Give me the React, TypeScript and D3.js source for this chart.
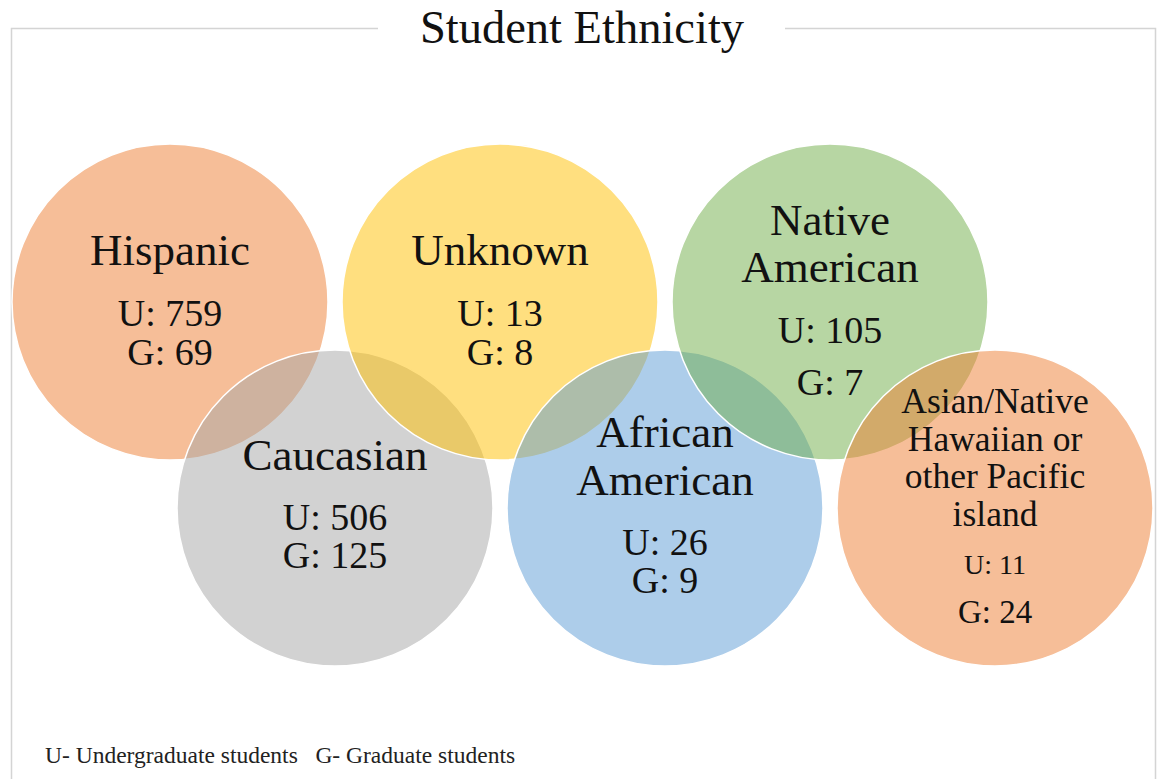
import React from 'react';
import * as d3 from 'd3';

// chart data
const categories = [
  'Hispanic',
  'Caucasian',
  'Unknown',
  'African American',
  'Native American',
  'Asian/Native Hawaiian or other Pacific island',
];
const nameLines = [
  ['Hispanic'],
  ['Caucasian'],
  ['Unknown'],
  ['African', 'American'],
  ['Native', 'American'],
  ['Asian/Native', 'Hawaiian or', 'other Pacific', 'island'],
];
const undergrad = [759, 506, 13, 26, 105, 11];
const graduate = [69, 125, 8, 9, 7, 24];
const colors = ['#ED7D31', '#A5A5A5', '#FFC000', '#5B9BD5', '#70AD47', '#ED7D31'];
const title = 'Student Ethnicity';
const note = 'U- Undergraduate students   G- Graduate students';

// label layout per circle (offsets from circle centre)
const labelLayout = [
  { nameY: -37, step: 48, nameSize: 45, uGap: 61, gGap: 39, uSize: 38, gSize: 38 },
  { nameY: -38, step: 48, nameSize: 45, uGap: 60, gGap: 38, uSize: 38, gSize: 38 },
  { nameY: -37, step: 48, nameSize: 45, uGap: 61, gGap: 39, uSize: 38, gSize: 38 },
  { nameY: -61, step: 48, nameSize: 45, uGap: 60, gGap: 38, uSize: 38, gSize: 38 },
  { nameY: -67, step: 47, nameSize: 45, uGap: 61, gGap: 52, uSize: 38, gSize: 38 },
  { nameY: -95, step: 37.5, nameSize: 35.5, uGap: 48, gGap: 49, uSize: 28, gSize: 33 },
];

const W = 1161;
const H = 779;
const font = '"Liberation Serif", "Times New Roman", serif';

export default function App() {
  const x = d3.scalePoint<string>().domain(categories).range([170, 995]);
  const y = d3.scaleOrdinal<number, number>().domain([0, 1]).range([302, 508]);
  const r = 158;

  return (
    <svg
      width={W}
      height={H}
      style={{ position: 'absolute', left: 0, top: 0, background: '#fff' }}
      fontFamily={font}
    >
      {/* frame with gap for the title */}
      <path
        d={`M378,28.5 H11.5 V${H + 2} M785,28.5 H1155.5 V${H + 2}`}
        fill="none"
        stroke="#d4d4d4"
        strokeWidth={1.5}
      />
      <text x={582} y={43} fontSize={46.5} textAnchor="middle" fill="#111">
        {title}
      </text>

      {categories.map((c, i) => (
        <circle
          key={c}
          cx={x(c)}
          cy={y(i % 2)}
          r={r}
          fill={colors[i]}
          fillOpacity={0.5}
          stroke="#fff"
          strokeWidth={1.5}
        />
      ))}

      {categories.map((c, i) => {
        const cx = x(c) as number;
        const cy = y(i % 2);
        const L = labelLayout[i];
        const lastName = cy + L.nameY + L.step * (nameLines[i].length - 1);
        const uy = lastName + L.uGap;
        const gy = uy + L.gGap;
        return (
          <g key={c} textAnchor="middle" fill="#111">
            {nameLines[i].map((line, k) => (
              <text key={k} x={cx} y={cy + L.nameY + L.step * k} fontSize={L.nameSize}>
                {line}
              </text>
            ))}
            <text x={cx} y={uy} fontSize={L.uSize}>{`U: ${undergrad[i]}`}</text>
            <text x={cx} y={gy} fontSize={L.gSize}>{`G: ${graduate[i]}`}</text>
          </g>
        );
      })}

      <text x={45} y={763} fontSize={23.5} fill="#222" style={{ whiteSpace: 'pre' }}>
        {note}
      </text>
    </svg>
  );
}
